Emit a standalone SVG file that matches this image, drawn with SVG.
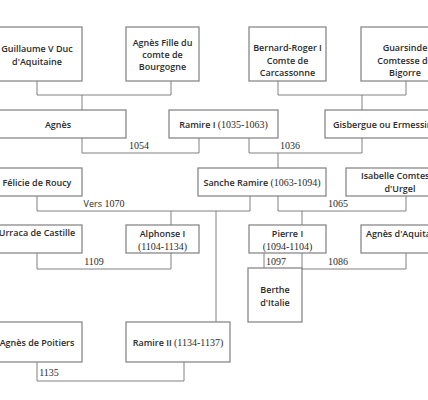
<svg xmlns="http://www.w3.org/2000/svg" width="428" height="400" viewBox="0 0 428 400">
<style>
.b{fill:#fff;stroke:#7f7f7f;stroke-width:1.2}
.t{font-family:"Open Sans","Liberation Sans",sans-serif;font-size:9px;font-weight:600;fill:#2b2b2b;text-anchor:middle}
.y{font-family:"Liberation Serif",serif;font-size:10px;font-weight:normal}
.l{font-family:"Liberation Serif",serif;font-size:10px;fill:#2b2b2b;text-anchor:middle}
.c{fill:none;stroke:#808080;stroke-width:1}
</style>
<rect width="428" height="400" fill="#fff"/>
<g id="connectors" class="c">
<path d="M37,81V95H171V81M82,95V110"/>
<path d="M278,81V95H406V81M362,95V110"/>
<path d="M82,138V153H199V138"/>
<path d="M249,138V153H362V138M278,153V168"/>
<path d="M37,196V211H250V196M171,211V225M216,211V322"/>
<path d="M278,196V211H406V196M302,211V225"/>
<path d="M37,253V269H171V253"/>
<path d="M264,253V268"/>
<path d="M302,253V269H406V253"/>
<path d="M37,362V381H184V362"/>
</g>
<g id="labels">
<text class="l" x="139" y="149">1054</text>
<text class="l" x="290" y="149">1036</text>
<text class="l" x="104" y="207"><tspan font-family="Open Sans,sans-serif" font-size="9">Vers</tspan> 1070</text>
<text class="l" x="338" y="207">1065</text>
<text class="l" x="94" y="265">1109</text>
<text class="l" x="276" y="265">1097</text>
<text class="l" x="338" y="265">1086</text>
<text class="l" x="49" y="376">1135</text>
</g>
<g id="guillaume"><rect class="b" x="-8" y="27" width="90" height="54"/><text class="t" x="37" y="51.5">Guillaume V Duc</text><text class="t" x="37" y="64.5">d'Aquitaine</text></g>
<g id="agnes-bourgogne"><rect class="b" x="126" y="27" width="73" height="54"/><text class="t" x="162.5" y="45.5">Agnès Fille du</text><text class="t" x="162.5" y="57.5">comte de</text><text class="t" x="162.5" y="69.5">Bourgogne</text></g>
<g id="bernard"><rect class="b" x="249" y="27" width="77" height="54"/><text class="t" x="287.5" y="51">Bernard-Roger I</text><text class="t" x="287.5" y="64">Comte de</text><text class="t" x="287.5" y="76">Carcassonne</text></g>
<g id="guarsinde"><rect class="b" x="361" y="27" width="90" height="54"/><text class="t" x="405" y="51">Guarsinde</text><text class="t" x="405" y="64">Comtesse de</text><text class="t" x="405" y="76">Bigorre</text></g>
<g id="agnes"><rect class="b" x="-10" y="110" width="136" height="28"/><text class="t" x="58" y="127.5">Agnès</text></g>
<g id="ramire1"><rect class="b" x="169" y="110" width="109" height="28"/><text class="t" x="223.5" y="127.5">Ramire I <tspan class="y">(1035-1063)</tspan></text></g>
<g id="gisbergue"><rect class="b" x="325" y="110" width="140" height="28"/><text class="t" x="333" y="127.5" style="text-anchor:start">Gisbergue ou Ermessinde</text></g>
<g id="felicie"><rect class="b" x="-8" y="168" width="90" height="28"/><text class="t" x="37" y="185.5">Félicie de Roucy</text></g>
<g id="sanche"><rect class="b" x="198" y="168" width="128" height="28"/><text class="t" x="262" y="185.5">Sanche Ramire <tspan class="y">(1063-1094)</tspan></text></g>
<g id="isabelle"><rect class="b" x="346" y="168" width="110" height="28"/><text class="t" x="400" y="178.5">Isabelle Comtesse</text><text class="t" x="400" y="191.5">d'Urgel</text></g>
<g id="urraca"><rect class="b" x="-8" y="225" width="90" height="28"/><text class="t" x="37" y="235.5">Urraca de Castille</text></g>
<g id="alphonse"><rect class="b" x="126" y="225" width="73" height="28"/><text class="t" x="162.5" y="236.5">Alphonse I</text><text class="t y" x="162.5" y="249.5">(1104-1134)</text></g>
<g id="pierre"><rect class="b" x="249" y="225" width="77" height="28"/><text class="t" x="287.5" y="236.5">Pierre I</text><text class="t y" x="287.5" y="249.5">(1094-1104)</text></g>
<g id="agnes-aquitaine"><rect class="b" x="361" y="225" width="100" height="28"/><text class="t" x="366" y="236.5" style="text-anchor:start">Agnès d'Aquitaine</text></g>
<g id="berthe"><rect class="b" x="248" y="268" width="54" height="54"/><text class="t" x="275" y="292.5">Berthe</text><text class="t" x="275" y="305.5">d'Italie</text></g>
<g id="agnes-poitiers"><rect class="b" x="-8" y="322" width="90" height="40"/><text class="t" x="37" y="345.5">Agnès de Poitiers</text></g>
<g id="ramire2"><rect class="b" x="126" y="322" width="104" height="40"/><text class="t" x="178" y="345.5">Ramire II <tspan class="y">(1134-1137)</tspan></text></g>
</svg>
